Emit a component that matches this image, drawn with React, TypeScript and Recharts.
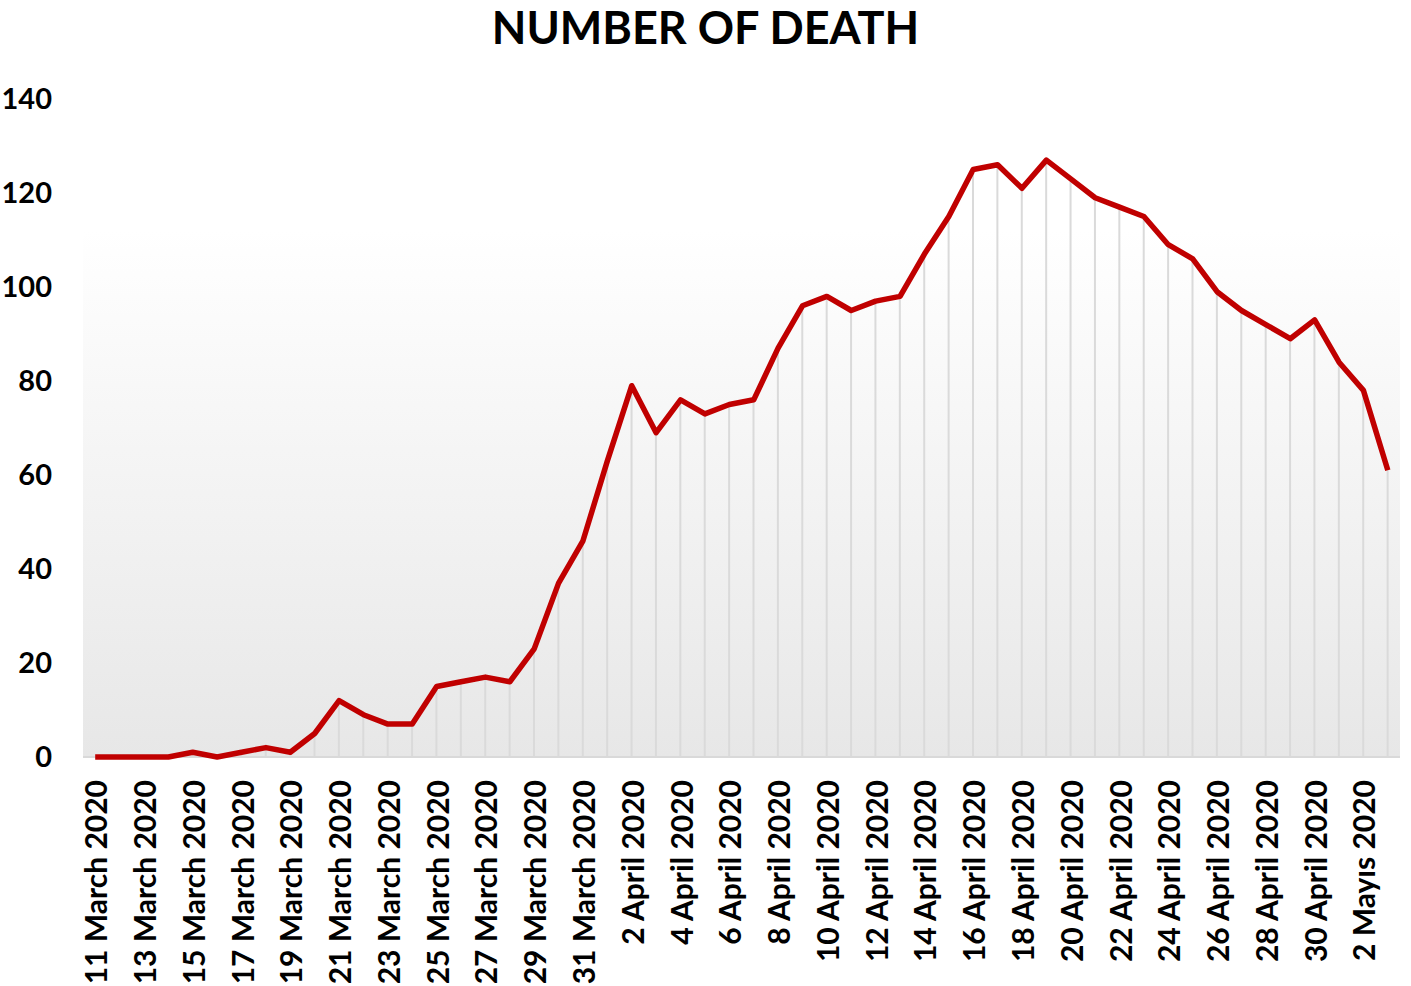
import {
  ComposedChart,
  Line,
  Bar,
  XAxis,
  YAxis,
  ReferenceArea,
  ReferenceLine,
} from 'recharts';

// one entry per day, 11 March 2020 .. 3 May 2020
const dayNumbers = [
  11, 12, 13, 14, 15, 16, 17, 18, 19, 20, 21, 22, 23, 24, 25, 26, 27, 28, 29, 30, 31,
  1, 2, 3, 4, 5, 6, 7, 8, 9, 10, 11, 12, 13, 14, 15, 16, 17, 18, 19, 20, 21, 22, 23, 24, 25, 26, 27, 28, 29, 30,
  1, 2, 3,
];
const monthNames = [
  'March', 'March', 'March', 'March', 'March', 'March', 'March', 'March', 'March', 'March', 'March',
  'March', 'March', 'March', 'March', 'March', 'March', 'March', 'March', 'March', 'March',
  'April', 'April', 'April', 'April', 'April', 'April', 'April', 'April', 'April', 'April',
  'April', 'April', 'April', 'April', 'April', 'April', 'April', 'April', 'April', 'April',
  'April', 'April', 'April', 'April', 'April', 'April', 'April', 'April', 'April', 'April',
  'Mayıs', 'Mayıs', 'Mayıs',
];
const deaths = [
  0, 0, 0, 0, 1, 0, 1, 2, 1, 5, 12, 9, 7, 7, 15, 16, 17, 16, 23, 37, 46,
  63, 79, 69, 76, 73, 75, 76, 87, 96, 98, 95, 97, 98, 107, 115, 125, 126, 121, 127,
  123, 119, 117, 115, 109, 106, 99, 95, 92, 89, 93,
  84, 78, 61,
];
const yTicks = [0, 20, 40, 60, 80, 100, 120, 140];

const data = deaths.map((value, i) => ({
  label: `${dayNumbers[i]} ${monthNames[i]} 2020`,
  deaths: value,
}));

const FONT = 'Lato, "Open Sans", sans-serif';

function DateTick(props: any) {
  const { x, y, payload } = props;
  return (
    <text
      x={x}
      y={y}
      transform={`rotate(-90, ${x}, ${y})`}
      textAnchor="end"
      dominantBaseline="central"
      fontFamily={FONT}
      fontWeight={700}
      fontSize={30}
      fill="#000"
    >
      {payload.value}
    </text>
  );
}

export default function App() {
  return (
    <div style={{ position: 'absolute', left: 0, top: 0, width: 1411, height: 986, background: '#fff' }}>
      <div
        style={{
          position: 'absolute',
          left: 0,
          top: 0,
          width: 1411,
          textAlign: 'center',
          fontFamily: FONT,
          fontWeight: 700,
          fontSize: 45,
          color: '#000',
        }}
      >
        NUMBER OF DEATH
      </div>
      <ComposedChart
        width={1411}
        height={986}
        data={data}
        margin={{ top: 99, right: 11, bottom: 0, left: 0 }}
      >
        <defs>
          <linearGradient id="plotBg" x1="0" y1="0" x2="0" y2="1">
            <stop offset="0%" stopColor="#ffffff" />
            <stop offset="20%" stopColor="#ffffff" />
            <stop offset="100%" stopColor="#e7e7e7" />
          </linearGradient>
        </defs>
        <ReferenceArea y1={0} y2={140} fill="url(#plotBg)" fillOpacity={1} stroke="none" />
        <ReferenceLine y={0} stroke="#d9d9d9" strokeWidth={2} />
        <XAxis
          dataKey="label"
          interval={1}
          height={229}
          tickLine={false}
          axisLine={false}
          tickMargin={17}
          tick={<DateTick />}
        />
        <YAxis
          domain={[0, 140]}
          ticks={yTicks}
          width={83}
          tickLine={false}
          axisLine={false}
          tickMargin={25}
          tick={{ fontFamily: FONT, fontWeight: 700, fontSize: 29, fill: '#000' }}
        />
        <Bar dataKey="deaths" barSize={2} fill="#dadada" isAnimationActive={false} />
        <Line
          type="linear"
          dataKey="deaths"
          stroke="#c00000"
          strokeWidth={5.5}
          strokeLinejoin="round"
          dot={false}
          activeDot={false}
          isAnimationActive={false}
        />
      </ComposedChart>
    </div>
  );
}
